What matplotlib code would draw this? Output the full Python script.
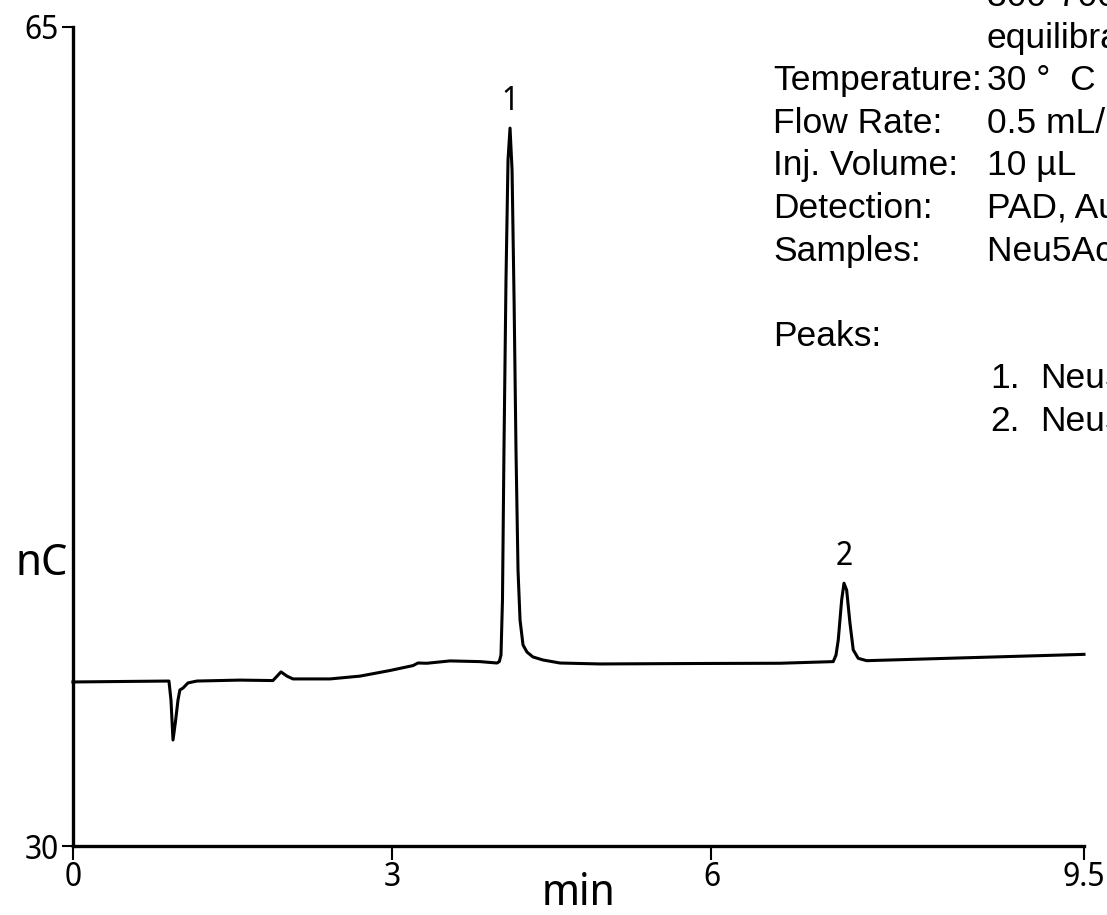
import matplotlib
matplotlib.use("Agg")
import matplotlib.pyplot as plt
from matplotlib import font_manager

# Chromatogram trace: retention time (min) and detector response (nC)
time_min = [0.000, 0.442, 0.902, 0.921, 0.940, 0.963, 0.987, 1.005, 1.034, 1.081,
            1.165, 1.569, 1.879, 1.955, 2.011, 2.067, 2.415, 2.697, 2.979, 3.195,
            3.242, 3.326, 3.543, 3.824, 3.984, 4.006,
            4.022, 4.036, 4.050, 4.069, 4.088, 4.107, 4.126, 4.145, 4.163, 4.182,
            4.201, 4.229, 4.266, 4.322, 4.416, 4.576, 4.952, 5.892, 6.643, 7.144,
            7.170, 7.191, 7.223, 7.245, 7.270, 7.301, 7.332, 7.379, 7.458, 8.210, 9.500]
signal_nc = [37.01, 37.03, 37.05, 36.24, 34.53, 35.30, 36.24, 36.67, 36.75, 36.97,
             37.05, 37.09, 37.07, 37.44, 37.26, 37.14, 37.14, 37.26, 37.50, 37.71,
             37.82, 37.81, 37.91, 37.88, 37.82, 37.88,
             38.16, 40.51, 46.92, 54.19, 59.32, 60.68, 58.89, 53.33, 46.92, 41.79,
             39.66, 38.59, 38.29, 38.08, 37.95, 37.82, 37.78, 37.80, 37.81, 37.88,
             38.16, 38.80, 40.51, 41.23, 40.94, 39.53, 38.38, 38.02, 37.92, 38.02, 38.19]

# Peak identification
peak_labels = ["1", "2"]
peak_times = [4.107, 7.245]
peak_heights = [60.68, 41.23]

# Axis ticks
x_ticks = [0, 3, 6, 9.5]
x_tick_labels = ["0", "3", "6", "9.5"]
y_ticks = [30, 65]
y_tick_labels = ["30", "65"]

# Method conditions
cond_labels = ["", "", "Temperature:", "Flow Rate:", "Inj. Volume:", "Detection:",
               "Samples:", "", "Peaks:"]
cond_values = ["300-700 mM NaOAc, 5 min", "equilibration", "30 °  C", "0.5 mL/min",
               "10 µL", "PAD, Au", "Neu5Ac, Neu5Gc", "", ""]
peak_names = ["Neu5Ac", "Neu5Gc"]

# Pick a condensed sans face for the axis annotations when one is installed
narrow_props = {"fontfamily": "DejaVu Sans", "fontstretch": "condensed"}
for entry in font_manager.fontManager.ttflist:
    if entry.name in ("Liberation Sans Narrow", "Roboto Condensed", "Open Sans Condensed",
                      "Arial Narrow", "Noto Sans Display"):
        narrow_props = {"fontfamily": entry.name}
        break
    if "Condensed" in entry.name or "Narrow" in entry.name:
        narrow_props = {"fontfamily": entry.name}
regular = "Liberation Sans"

fig = plt.figure(figsize=(11.07, 9.15), dpi=100)
ax = fig.add_axes([0.0659, 0.0754, 0.9133, 0.8951])

ax.plot(time_min, signal_nc, color="black", lw=2.2, clip_on=False,
        solid_joinstyle="round")

ax.set_xlim(0, 9.5)
ax.set_ylim(30, 65)
for side in ("top", "right"):
    ax.spines[side].set_visible(False)
for side in ("left", "bottom"):
    ax.spines[side].set_linewidth(2.4)

ax.set_xticks(x_ticks)
ax.set_xticklabels(x_tick_labels, fontsize=23, **narrow_props)
ax.set_yticks(y_ticks)
ax.set_yticklabels(y_tick_labels, fontsize=23, **narrow_props)
ax.tick_params(axis="x", direction="out", length=10, width=1.5, pad=1)
ax.tick_params(axis="y", direction="out", length=8, width=1.5, pad=2)

ax.set_xlabel("min", fontsize=31, labelpad=-16, **narrow_props)
ax.set_ylabel("nC", fontsize=32, rotation=0, **narrow_props)
ax.yaxis.set_label_coords(-0.031, 0.318)

for lab, t, h in zip(peak_labels, peak_times, peak_heights):
    ax.annotate(lab, (t, h), xytext=(0, 7), textcoords="offset points",
                ha="center", va="bottom", fontsize=23, **narrow_props)

# Conditions block, running off the right edge
line_h = 42.6
y0 = 915 - 5
for i, (lab, val) in enumerate(zip(cond_labels, cond_values)):
    ypix = y0 - i * line_h
    if lab:
        fig.text(773 / 1107, ypix / 915, lab, fontfamily=regular, fontsize=25.5,
                 ha="left", va="baseline")
    if val:
        fig.text(987 / 1107, ypix / 915, val, fontfamily=regular, fontsize=25.5,
                 ha="left", va="baseline")
for j, name in enumerate(peak_names):
    ypix = y0 - (9 + j) * line_h
    fig.text(990 / 1107, ypix / 915, f"{j + 1}.", fontfamily=regular, fontsize=25.5,
             ha="left", va="baseline")
    fig.text(1040 / 1107, ypix / 915, name, fontfamily=regular, fontsize=25.5,
             ha="left", va="baseline")

fig.savefig("out.png", dpi=100)
